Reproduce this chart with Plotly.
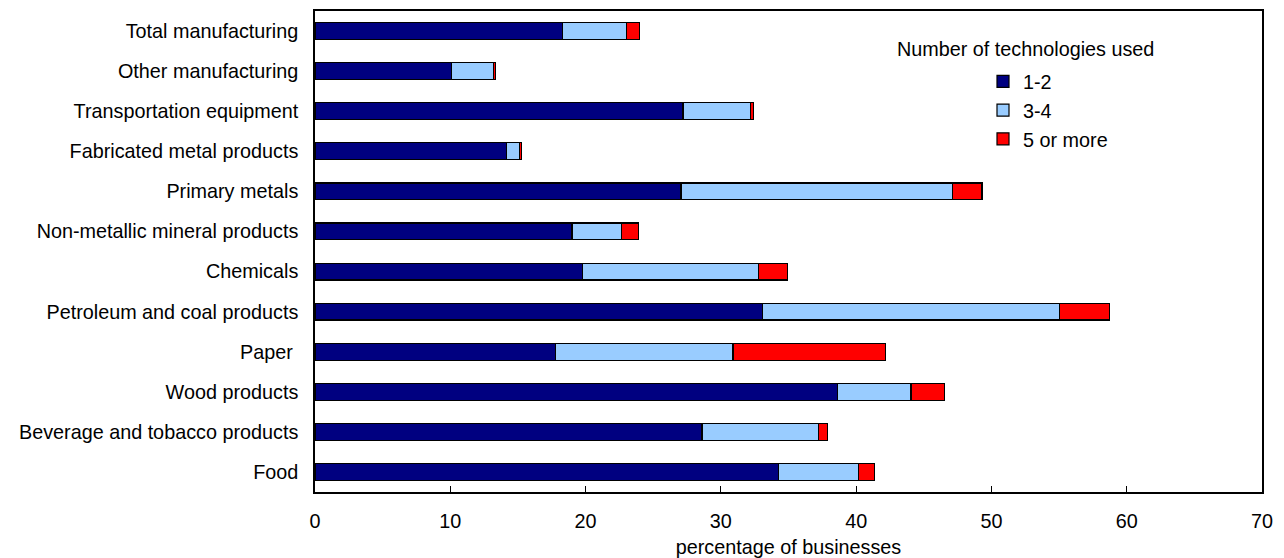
import plotly.graph_objects as go

# Industries, listed bottom to top as they appear on the axis
industries = [
    "Food",
    "Beverage and tobacco products",
    "Wood products",
    "Paper ",
    "Petroleum and coal products",
    "Chemicals",
    "Non-metallic mineral products",
    "Primary metals",
    "Fabricated metal products",
    "Transportation equipment",
    "Other manufacturing",
    "Total manufacturing",
]

# Percentage of businesses by number of technologies used
tech_1_2 = [34.25, 28.6, 38.6, 17.75, 33.1, 19.8, 19.0, 27.05, 14.15, 27.2, 10.1, 18.3]
tech_3_4 = [5.95, 8.6, 5.45, 13.15, 21.95, 13.0, 3.65, 20.05, 0.95, 5.0, 3.1, 4.75]
tech_5_plus = [1.15, 0.7, 2.5, 11.25, 3.7, 2.1, 1.25, 2.2, 0.15, 0.2, 0.15, 0.95]

series_names = ["1-2", "3-4", "5 or more"]
series_colors = ["#000080", "#99CCFF", "#FF0000"]
x_ticks = [0, 10, 20, 30, 40, 50, 60, 70]

FONT = "Liberation Sans, Arial, sans-serif"
FS = 19.8

fig = go.Figure()
for name, vals, color in zip(series_names, [tech_1_2, tech_3_4, tech_5_plus], series_colors):
    fig.add_trace(go.Bar(
        name=name,
        y=industries,
        x=vals,
        orientation="h",
        marker=dict(color=color, line=dict(color="black", width=1.2)),
    ))

W, H = 1284, 558
L, R, T, B = 315, 22, 11, 66
PW, PH = W - L - R, H - T - B

fig.update_layout(
    width=W, height=H,
    margin=dict(l=L, r=R, t=T, b=B, pad=0),
    barmode="stack",
    bargap=0.58,
    plot_bgcolor="white",
    paper_bgcolor="white",
    font=dict(family=FONT, size=FS, color="black"),
    showlegend=True,
    legend=dict(
        x=(983 - L) / PW, y=1 - (62 - T) / PH,
        xanchor="left", yanchor="top",
        traceorder="normal",
        bgcolor="rgba(0,0,0,0)",
        font=dict(family=FONT, size=FS, color="black"),
        tracegroupgap=0,
    ),
    xaxis=dict(
        range=[0, 70],
        tickvals=x_ticks,
        ticks="inside",
        ticklen=6,
        tickcolor="black",
        showgrid=False,
        zeroline=False,
        showline=True,
        linecolor="black",
        linewidth=1.5,
        mirror=True,
        automargin=False,
        ticklabelstandoff=10,
        title=dict(text="percentage of businesses", font=dict(family=FONT, size=FS), standoff=11),
    ),
    yaxis=dict(
        showgrid=False,
        zeroline=False,
        showline=True,
        linecolor="black",
        linewidth=1.5,
        mirror=True,
        automargin=False,
        ticks="",
        ticklabelstandoff=11,
        categoryorder="array",
        categoryarray=industries,
    ),
    annotations=[
        dict(
            text="Number of technologies used",
            xref="paper", yref="paper",
            x=(1025 - L) / PW, y=1 - (49 - T) / PH,
            xanchor="center", yanchor="middle",
            showarrow=False,
            font=dict(family=FONT, size=FS, color="black"),
        )
    ],
)

fig.write_html("out.html")
